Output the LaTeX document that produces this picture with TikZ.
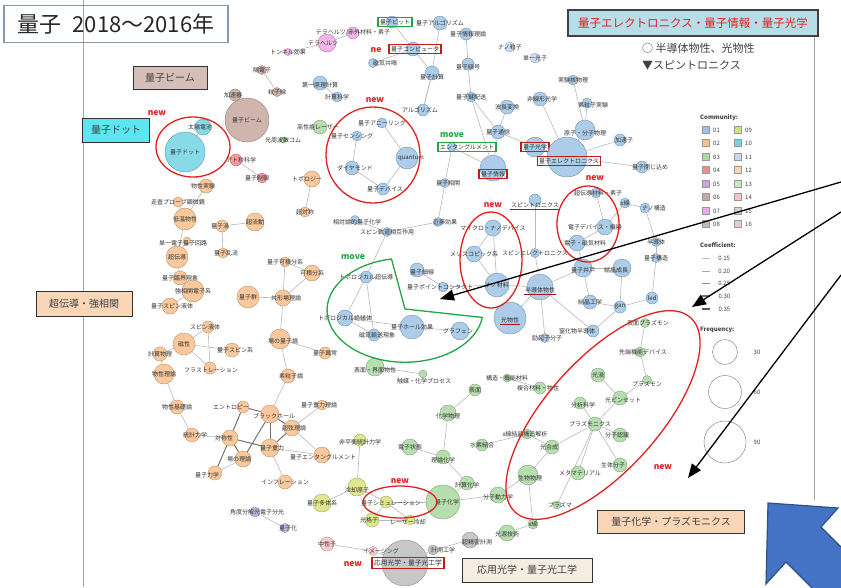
\documentclass[tikz,border=0pt]{standalone}
\usepackage{fontspec}
\setmainfont{Noto Sans CJK JP}
\usetikzlibrary{arrows.meta,backgrounds}
\definecolor{com01}{HTML}{9DC3E6}
\definecolor{com02}{HTML}{F8C08C}
\definecolor{com03}{HTML}{A9D8A0}
\definecolor{com04}{HTML}{EE8C8C}
\definecolor{com05}{HTML}{C4A8DC}
\definecolor{com06}{HTML}{C8A8A0}
\definecolor{com07}{HTML}{EEA8E6}
\definecolor{com08}{HTML}{BDBDBD}
\definecolor{com09}{HTML}{D8E27A}
\definecolor{com10}{HTML}{74D4E4}
\definecolor{com11}{HTML}{C6D6F4}
\definecolor{com12}{HTML}{F9D6B8}
\definecolor{com13}{HTML}{C8EAC4}
\definecolor{com14}{HTML}{F6C4C4}
\definecolor{com15}{HTML}{D4D0D8}
\definecolor{com16}{HTML}{E6CCD8}
\definecolor{ringred}{HTML}{E3201F}
\definecolor{movegreen}{HTML}{21A645}
\definecolor{arrowblue}{HTML}{4472C4}
\definecolor{titleframe}{HTML}{8497B0}
\definecolor{bannerfill}{HTML}{B7DEE8}
\definecolor{dotfill}{HTML}{5CE6F0}

\begin{document}
\begin{tikzpicture}[>={Triangle[width=11pt,length=14pt]},
  nd/.style={circle, inner sep=0pt, fill opacity=.85, line width=.4pt},
  n01/.style={nd, fill=com01, draw=com01!75!black},
  n02/.style={nd, fill=com02, draw=com02!75!black},
  n03/.style={nd, fill=com03, draw=com03!75!black},
  n04/.style={nd, fill=com04, draw=com04!75!black},
  n05/.style={nd, fill=com05, draw=com05!75!black},
  n06/.style={nd, fill=com06, draw=com06!75!black},
  n07/.style={nd, fill=com07, draw=com07!75!black},
  n08/.style={nd, fill=com08, draw=com08!75!black},
  n09/.style={nd, fill=com09, draw=com09!75!black},
  n10/.style={nd, fill=com10, draw=com10!75!black},
  n11/.style={nd, fill=com11, draw=com11!75!black},
  n14/.style={nd, fill=com14, draw=com14!75!black},
  lbl/.style={font=\fontsize{6}{6}\selectfont, text=black!80, inner sep=.5pt},
  lk/.style={draw=black!28, line width=.6pt},
  lk2/.style={draw=black!55, line width=1pt},
  rbox/.style={lbl, draw=ringred!85!black, line width=1.1pt, inner sep=2pt},
  gbox/.style={lbl, draw=movegreen, line width=1.1pt, inner sep=2pt},
  grp/.style={draw=black!80, line width=.9pt, font=\fontsize{10}{10}\selectfont, text=black!75, inner sep=0pt},
  tagnew/.style={text=ringred, font=\bfseries\fontsize{8.5}{8.5}\selectfont, inner sep=0pt},
  tagmove/.style={text=movegreen, font=\bfseries\fontsize{8.5}{8.5}\selectfont, inner sep=0pt},
  ring/.style={draw=ringred, line width=1.3pt},
  uline/.style={draw=ringred!70!black, line width=1pt},
  pointer/.style={->, line width=1.3pt},
  key/.style={draw=black!40, line width=.3pt, minimum size=7pt, inner sep=0pt},
  lgd/.style={font=\fontsize{6}{6}\selectfont, text=black!75, inner sep=0pt, anchor=west},
]
\useasboundingbox (0pt,0pt) rectangle (841pt,-587pt);

% slide frame lines
\draw[black!35, line width=.8pt] (83pt,0pt) -- (83pt,-587pt);
\draw[black!35, line width=.8pt] (814pt,-37pt) -- (814pt,-500pt);

% title and banner
\draw (116.0pt, -24.0pt)node[draw=titleframe, line width=1.5pt, minimum width=224pt, minimum height=37pt, font=\fontsize{22}{22}\selectfont, text=black!85](title){量子\hspace{0.5em}2018〜2016年};
\draw (693.0pt, -23.0pt)node[draw=black!75, line width=1.2pt, fill=bannerfill, minimum width=250pt, minimum height=26pt, text=ringred, font=\fontsize{11.5}{11.5}\selectfont](banner){量子エレクトロニクス・量子情報・量子光学};
\draw (642.0pt, -48.0pt)node[anchor=west, inner sep=0pt, font=\fontsize{11}{11}\selectfont, text=black!75](mark1){○ 半導体物性、光物性};
\draw (642.0pt, -65.0pt)node[anchor=west, inner sep=0pt, font=\fontsize{11}{11}\selectfont, text=black!75](mark2){▼スピントロニクス};

% cluster labels
\draw (170.0pt, -78.0pt)node[grp, fill=com06!75, minimum width=74pt, minimum height=23pt](gBeam){量子ビーム};
\draw (116.0pt, -130.0pt)node[grp, fill=dotfill, minimum width=67pt, minimum height=24pt](gDot){量子ドット};
\draw (84.0pt, -304.0pt)node[grp, fill=com12, minimum width=96pt, minimum height=25pt](gSup){超伝導・強相関};
\draw (671.0pt, -522.0pt)node[grp, fill=com12, minimum width=147pt, minimum height=23pt](gChem){量子化学・プラズモニクス};
\draw (527.0pt, -570.0pt)node[grp, fill=brown!15!white, minimum width=130pt, minimum height=24pt](gOpt){応用光学・量子光工学};

% quantum dot / beam / misc
\draw (185.0pt, -152.0pt)node[n10, minimum size=40pt](q1){} node[lbl]{量子ドット};
\draw (203.0pt, -127.0pt)node[n10, minimum size=16pt](q2){} node[lbl, xshift=-3pt]{太陽電池};
\draw (247.0pt, -120.0pt)node[n06, minimum size=44pt](br1){} node[lbl]{量子ビーム};
\draw (235.0pt, -95.0pt)node[n06, minimum size=12pt](br2){} node[lbl, xshift=-2pt]{加速器};
\draw (262.0pt, -70.0pt)node[n06, minimum size=9pt](br3){} node[lbl]{陽電子};
\draw (277.0pt, -92.0pt)node[n06, minimum size=9pt](br4){} node[lbl]{粒子線};
\draw (353.0pt, -33.0pt)node[n07, minimum size=12pt](pk1){} node[lbl]{テラヘルツ/赤外材料・素子};
\draw (327.0pt, -43.0pt)node[n07, minimum size=18pt](pk2){} node[lbl, xshift=-4pt]{テラヘルツ};
\draw (288.0pt, -52.0pt)node[n07, minimum size=7pt](pk3){} node[lbl]{トンネル効果};
\draw (236.0pt, -160.0pt)node[n04, minimum size=12pt](r1){} node[lbl, xshift=5pt]{アト秒科学};
\draw (262.0pt, -178.0pt)node[n04, minimum size=10pt](r2){} node[lbl, xshift=-5pt]{量子制御};
\draw (320.0pt, -127.0pt)node[n03, minimum size=14pt](g1){} node[lbl, xshift=-2pt]{高性能レーザー};
\draw (283.0pt, -140.0pt)node[n03, minimum size=6pt](g2){} node[lbl]{光周波数コム};

% community 01
\draw (392.0pt, -22.0pt)node[n01, minimum size=12pt](b1){} node[gbox, xshift=3pt]{量子ビット};
\draw (413.0pt, -49.0pt)node[n01, minimum size=14pt](b2){} node[rbox, xshift=2pt]{量子コンピュータ};
\draw (373.0pt, -63.0pt)node[n01, minimum size=9pt](b3){} node[lbl, xshift=12pt]{磁気共鳴};
\draw (320.0pt, -83.0pt)node[n01, minimum size=14pt](b4){} node[lbl, yshift=-2pt]{第一原理計算};
\draw (337.0pt, -97.0pt)node[n01, minimum size=10pt](b5){} node[lbl]{計算科学};
\draw (440.0pt, -23.0pt)node[n01, minimum size=14pt](b6){} node[lbl]{量子アルゴリズム};
\draw (466.0pt, -34.0pt)node[n01, minimum size=12pt](b7){} node[lbl, xshift=2pt]{量子情報理論};
\draw (432.0pt, -73.0pt)node[n01, minimum size=14pt](b8){} node[lbl, yshift=-4pt]{量子計算};
\draw (468.0pt, -64.0pt)node[n01, minimum size=12pt](b9){} node[lbl, yshift=-3pt]{量子暗号};
\draw (471.0pt, -97.0pt)node[n01, minimum size=10pt](b10){} node[lbl]{量子鍵配送};
\draw (507.0pt, -107.0pt)node[n01, minimum size=14pt](b11){} node[lbl]{波長変換};
\draw (423.0pt, -110.0pt)node[n01, minimum size=12pt](b12){} node[lbl, xshift=-3pt]{アルゴリズム};
\draw (498.0pt, -132.0pt)node[n01, minimum size=14pt](b13){} node[lbl]{量子通信};
\draw (535.0pt, -147.0pt)node[n01, minimum size=20pt](b14){} node[rbox]{量子光学};
\draw (567.0pt, -157.0pt)node[n01, minimum size=40pt](b15){} node[rbox, xshift=2pt, yshift=-4pt]{量子エレクトロニクス};
\draw (493.0pt, -168.0pt)node[n01, minimum size=26pt](b16){} node[rbox, yshift=-6pt]{量子情報};
\draw (452.0pt, -147.0pt)node[n01, minimum size=9pt](b17){} node[gbox, xshift=15pt]{エンタングルメント};
\draw (445.0pt, -183.0pt)node[n01, minimum size=9pt](b18){} node[lbl, xshift=3pt]{量子相関};
\draw (540.0pt, -99.0pt)node[n01, minimum size=14pt](b19){} node[lbl, xshift=2pt]{非線形光学};
\draw (573.0pt, -80.0pt)node[n01, minimum size=10pt](b20){} node[lbl]{実験核物理};
\draw (587.0pt, -103.0pt)node[n01, minimum size=10pt](b21){} node[lbl, xshift=6pt, yshift=-2pt]{素粒子実験};
\draw (585.0pt, -130.0pt)node[n01, minimum size=20pt](b22){} node[lbl, yshift=-3pt]{原子・分子物理};
\draw (620.0pt, -140.0pt)node[n01, minimum size=12pt](b23){} node[lbl, xshift=4pt]{加速子};
\draw (642.0pt, -167.0pt)node[n01, minimum size=12pt](b24){} node[lbl, xshift=8pt]{量子閉じ込め};
\draw (510.0pt, -47.0pt)node[n11, minimum size=10pt](b25){} node[lbl]{ナノ粒子};
\draw (535.0pt, -58.0pt)node[n11, minimum size=10pt](b26){} node[lbl]{単一光子};
\draw (382.0pt, -123.0pt)node[n01, minimum size=10pt](b27){} node[lbl]{量子アニーリング};
\draw (357.0pt, -136.0pt)node[n01, minimum size=10pt](b28){} node[lbl, xshift=-5pt]{量子センシング};
\draw (352.0pt, -168.0pt)node[n01, minimum size=14pt](b29){} node[lbl, xshift=3pt]{ダイヤモンド};
\draw (407.0pt, -158.0pt)node[n01, minimum size=22pt](b30){} node[lbl, xshift=4pt]{quantum};
\draw (383.0pt, -189.0pt)node[n01, minimum size=12pt](b31){} node[lbl, xshift=2pt]{量子デバイス};
\draw (596.0pt, -193.0pt)node[n01, minimum size=10pt](b32){} node[lbl, xshift=2pt]{超伝導材料・素子};
\draw (535.0pt, -200.0pt)node[n01, minimum size=12pt](b33){} node[lbl, yshift=-5pt](b33t){スピントロニクス};
\draw (438.0pt, -222.0pt)node[n01, minimum size=9pt](b34){} node[lbl, xshift=7pt]{近藤効果};
\draw (355.0pt, -220.0pt)node[n01, minimum size=9pt](b35){} node[lbl, xshift=2pt, yshift=-2pt]{相対論的量子化学};
\draw (387.0pt, -232.0pt)node[n01, minimum size=9pt](b36){} node[lbl]{スピン軌道相互作用};
\draw (493.0pt, -228.0pt)node[n01, minimum size=16pt](b37){} node[lbl]{マイクロ・ナノデバイス};
\draw (474.0pt, -254.0pt)node[n01, minimum size=16pt](b38){} node[lbl]{メゾスコピック系};
\draw (535.0pt, -253.0pt)node[n01, minimum size=9pt](b39){} node[lbl]{スピンエレクトロニクス};
\draw (497.0pt, -285.0pt)node[n01, minimum size=24pt](b40){} node[lbl]{ナノ材料};
\draw (605.0pt, -227.0pt)node[n01, minimum size=16pt](b41){} node[lbl, xshift=-10pt]{電子デバイス・機器};
\draw (577.0pt, -243.0pt)node[n01, minimum size=16pt](b42){} node[lbl, xshift=8pt]{電子・磁気材料};
\draw (583.0pt, -268.0pt)node[n01, minimum size=18pt](b43){} node[lbl, yshift=-2pt]{量子井戸};
\draw (622.0pt, -268.0pt)node[n01, minimum size=18pt](b44){} node[lbl, xshift=-6pt, yshift=-2pt]{結晶成長};
\draw (625.0pt, -203.0pt)node[n01, minimum size=10pt](b45){} node[lbl]{x線};
\draw (645.0pt, -208.0pt)node[n01, minimum size=10pt](b46){} node[lbl, xshift=9pt]{ナノ構造};
\draw (656.0pt, -242.0pt)node[n01, minimum size=9pt](b47){} node[lbl]{半導体};
\draw (656.0pt, -258.0pt)node[n01, minimum size=9pt](b48){} node[lbl]{量子構造};
\draw (652.0pt, -298.0pt)node[n01, minimum size=12pt](b49){} node[lbl]{led};
\draw (620.0pt, -307.0pt)node[n01, minimum size=12pt](b50){} node[lbl]{gan};
\draw (590.0pt, -302.0pt)node[n01, minimum size=14pt](b51){} node[lbl]{結晶工学};
\draw (540.0pt, -287.0pt)node[n01, minimum size=26pt](b52){} node[lbl, yshift=-3pt](b52t){半導体物性};
\draw (510.0pt, -318.0pt)node[n01, minimum size=32pt](b53){} node[lbl, yshift=-2pt](b53t){光物性};
\draw (593.0pt, -331.0pt)node[n01, minimum size=12pt](b54){} node[lbl, xshift=-16pt]{窒化物半導体};
\draw (545.0pt, -338.0pt)node[n01, minimum size=9pt](b55){} node[lbl, xshift=2pt]{励起子分子};
\draw (417.0pt, -270.0pt)node[n01, minimum size=14pt](b56){} node[lbl, xshift=5pt, yshift=-2pt]{量子細線};
\draw (443.0pt, -287.0pt)node[n01, minimum size=10pt](b57){} node[lbl, xshift=-3pt]{量子ポイントコンタクト};
\draw (412.0pt, -327.0pt)node[n01, minimum size=24pt](b58){} node[lbl]{量子ホール効果};
\draw (460.0pt, -331.0pt)node[n01, minimum size=18pt](b59){} node[lbl, xshift=-2pt]{グラフェン};
\draw (366.0pt, -277.0pt)node[n01, minimum size=12pt](b60){} node[lbl]{トポロジカル超伝導};
\draw (345.0pt, -318.0pt)node[n01, minimum size=16pt](b61){} node[lbl]{トポロジカル絶縁体};
\draw (374.0pt, -335.0pt)node[n01, minimum size=12pt](b62){} node[lbl, xshift=3pt]{磁気輸送現象};

% community 02
\draw (312.0pt, -179.0pt)node[n02, minimum size=16pt](o1){} node[lbl, xshift=-5pt]{トポロジー};
\draw (305.0pt, -212.0pt)node[n02, minimum size=10pt](o2){} node[lbl]{超対称};
\draw (206.0pt, -186.0pt)node[n02, minimum size=14pt](o3){} node[lbl, xshift=-3pt]{物性実験};
\draw (178.0pt, -202.0pt)node[n02, minimum size=10pt](o4){} node[lbl]{走査プローブ顕微鏡};
\draw (185.0pt, -219.0pt)node[n02, minimum size=22pt](o5){} node[lbl]{低温物性};
\draw (255.0pt, -222.0pt)node[n02, minimum size=18pt](o6){} node[lbl]{超流動};
\draw (222.0pt, -226.0pt)node[n02, minimum size=12pt](o7){} node[lbl, xshift=-2pt]{量子渦};
\draw (223.0pt, -253.0pt)node[n02, minimum size=10pt](o8){} node[lbl, xshift=3pt]{量子乱流};
\draw (187.0pt, -241.0pt)node[n02, minimum size=8pt](o9){} node[lbl, xshift=-4pt, yshift=-2pt]{単一電子量子回路};
\draw (177.0pt, -257.0pt)node[n02, minimum size=22pt](o10){} node[lbl]{超伝導};
\draw (180.0pt, -278.0pt)node[n02, minimum size=14pt](o11){} node[lbl]{量子臨界現象};
\draw (193.0pt, -291.0pt)node[n02, minimum size=22pt](o12){} node[lbl]{強相関電子系};
\draw (170.0pt, -306.0pt)node[n02, minimum size=16pt](o13){} node[lbl, xshift=2pt]{量子スピン液体};
\draw (208.0pt, -327.0pt)node[n02, minimum size=12pt](o14){} node[lbl, xshift=-3pt]{スピン液体};
\draw (184.0pt, -344.0pt)node[n02, minimum size=22pt](o15){} node[lbl]{磁性};
\draw (160.0pt, -354.0pt)node[n02, minimum size=14pt](o16){} node[lbl]{計算物理};
\draw (164.0pt, -374.0pt)node[n02, minimum size=20pt](o17){} node[lbl]{物性理論};
\draw (210.0pt, -368.0pt)node[n02, minimum size=12pt](o18){} node[lbl, xshift=1pt, yshift=-2pt]{フラストレーション};
\draw (232.0pt, -350.0pt)node[n02, minimum size=14pt](o19){} node[lbl, xshift=3pt]{量子スピン系};
\draw (177.0pt, -407.0pt)node[n02, minimum size=14pt](o20){} node[lbl]{物性基礎論};
\draw (192.0pt, -435.0pt)node[n02, minimum size=14pt](o21){} node[lbl, xshift=3pt]{統計力学};
\draw (285.0pt, -262.0pt)node[n02, minimum size=10pt](o22){} node[lbl]{量子可積分系};
\draw (312.0pt, -273.0pt)node[n02, minimum size=16pt](o23){} node[lbl]{可積分系};
\draw (248.0pt, -297.0pt)node[n02, minimum size=22pt](o24){} node[lbl]{量子群};
\draw (283.0pt, -298.0pt)node[n02, minimum size=16pt](o25){} node[lbl, xshift=3pt]{共形場理論};
\draw (280.0pt, -339.0pt)node[n02, minimum size=20pt](o26){} node[lbl, xshift=3pt, yshift=-2pt]{場の量子論};
\draw (325.0pt, -353.0pt)node[n02, minimum size=12pt](o27){} node[lbl]{量子異常};
\draw (288.0pt, -376.0pt)node[n02, minimum size=14pt](o28){} node[lbl, xshift=3pt]{素粒子論};
\draw (322.0pt, -405.0pt)node[n02, minimum size=10pt](o29){} node[lbl, xshift=-3pt]{量子重力理論};
\draw (243.0pt, -407.0pt)node[n02, minimum size=12pt](o30){} node[lbl, xshift=-12pt]{エントロピー};
\draw (270.0pt, -414.0pt)node[n02, minimum size=18pt](o31){} node[lbl, xshift=4pt, yshift=-2pt]{ブラックホール};
\draw (292.0pt, -428.0pt)node[n02, minimum size=16pt](o32){} node[lbl, xshift=2pt]{超弦理論};
\draw (230.0pt, -438.0pt)node[n02, minimum size=16pt](o33){} node[lbl, xshift=-6pt]{対称性};
\draw (270.0pt, -448.0pt)node[n02, minimum size=18pt](o34){} node[lbl, xshift=2pt]{量子重力};
\draw (243.0pt, -459.0pt)node[n02, minimum size=16pt](o35){} node[lbl, xshift=-4pt]{場の理論};
\draw (322.0pt, -455.0pt)node[n02, minimum size=16pt](o36){} node[lbl, xshift=1pt, yshift=-2pt]{量子エンタングルメント};
\draw (215.0pt, -473.0pt)node[n02, minimum size=14pt](o37){} node[lbl, xshift=-8pt, yshift=-2pt]{量子力学};
\draw (285.0pt, -482.0pt)node[n02, minimum size=14pt](o38){} node[lbl]{インフレーション};

% community 03
\draw (375.0pt, -367.0pt)node[n03, minimum size=18pt](g3){} node[lbl, yshift=-3pt]{表面・界面物性};
\draw (423.0pt, -374.0pt)node[n03, minimum size=8pt](g4){} node[lbl, xshift=1pt, yshift=-7pt]{触媒・化学プロセス};
\draw (507.0pt, -378.0pt)node[n03, minimum size=8pt](g5){} node[lbl]{構造・機能材料};
\draw (540.0pt, -388.0pt)node[n03, minimum size=12pt](g6){} node[lbl, xshift=-2pt]{複合材料・物性};
\draw (475.0pt, -390.0pt)node[n03, minimum size=12pt](g7){} node[lbl]{表面};
\draw (448.0pt, -413.0pt)node[n03, minimum size=16pt](g8){} node[lbl, yshift=-3pt]{化学物理};
\draw (410.0pt, -447.0pt)node[n03, minimum size=16pt](g9){} node[lbl]{電子状態};
\draw (443.0pt, -457.0pt)node[n03, minimum size=14pt](g10){} node[lbl, yshift=-3pt]{理論化学};
\draw (482.0pt, -445.0pt)node[n03, minimum size=12pt](g11){} node[lbl]{水素結合};
\draw (527.0pt, -434.0pt)node[n03, minimum size=10pt](g12){} node[lbl, xshift=-2pt]{x線結晶構造解析};
\draw (552.0pt, -447.0pt)node[n03, minimum size=14pt](g13){} node[lbl, xshift=-3pt]{光合成};
\draw (528.0pt, -475.0pt)node[n03, minimum size=20pt](g14){} node[lbl, xshift=2pt, yshift=-3pt]{生物物理};
\draw (467.0pt, -483.0pt)node[n03, minimum size=14pt](g15){} node[lbl, yshift=-2pt]{計算化学};
\draw (443.0pt, -502.0pt)node[n03, minimum size=34pt](g16){} node[lbl, xshift=4pt]{量子化学};
\draw (498.0pt, -495.0pt)node[n03, minimum size=16pt](g17){} node[lbl, yshift=-2pt]{分子動力学};
\draw (557.0pt, -505.0pt)node[n03, minimum size=8pt](g18){} node[lbl, xshift=3pt]{プラズマ};
\draw (578.0pt, -473.0pt)node[n03, minimum size=14pt](g19){} node[lbl, xshift=2pt]{メタマテリアル};
\draw (620.0pt, -465.0pt)node[n03, minimum size=14pt](g20){} node[lbl, xshift=-7pt]{生体分子};
\draw (595.0pt, -424.0pt)node[n03, minimum size=14pt](g21){} node[lbl, xshift=-5pt]{プラズモニクス};
\draw (620.0pt, -435.0pt)node[n03, minimum size=14pt](g22){} node[lbl, xshift=-3pt]{分子認識};
\draw (580.0pt, -403.0pt)node[n03, minimum size=12pt](g23){} node[lbl, xshift=3pt, yshift=-2pt]{分析科学};
\draw (620.0pt, -398.0pt)node[n03, minimum size=14pt](g24){} node[lbl, xshift=3pt, yshift=-2pt]{光ピンセット};
\draw (598.0pt, -375.0pt)node[n03, minimum size=14pt](g25){} node[lbl]{光渦};
\draw (647.0pt, -380.0pt)node[n03, minimum size=9pt](g26){} node[lbl, yshift=-4pt]{プラズモン};
\draw (640.0pt, -352.0pt)node[n03, minimum size=10pt](g27){} node[lbl, xshift=3pt]{先端機能デバイス};
\draw (645.0pt, -323.0pt)node[n03, minimum size=9pt](g28){} node[lbl, xshift=3pt]{表面プラズモン};
\draw (533.0pt, -524.0pt)node[n03, minimum size=10pt](g29){} node[lbl]{x線};
\draw (507.0pt, -533.0pt)node[n03, minimum size=16pt](g30){} node[lbl, yshift=-1pt]{光源技術};

% community 09 / 08 / 05 / 14
\draw (360.0pt, -440.0pt)node[n09, minimum size=12pt](y0){} node[lbl, yshift=-2pt]{非平衡統計力学};
\draw (357.0pt, -487.0pt)node[n09, minimum size=18pt](y1){} node[lbl, yshift=-3pt]{冷却原子};
\draw (322.0pt, -503.0pt)node[n09, minimum size=18pt](y2){} node[lbl]{量子多体系};
\draw (386.0pt, -502.0pt)node[n09, minimum size=12pt](y3){} node[lbl, xshift=5pt, yshift=-1pt]{量子シミュレーション};
\draw (372.0pt, -520.0pt)node[n09, minimum size=14pt](y4){} node[lbl, xshift=-3pt]{光格子};
\draw (410.0pt, -520.0pt)node[n09, minimum size=10pt](y5){} node[lbl, xshift=-2pt, yshift=-2pt]{レーザー冷却};
\draw (405.0pt, -563.0pt)node[n08, minimum size=46pt](gr1){} node[rbox, xshift=3pt, font=\fontsize{6.8}{6.8}\selectfont]{応用光学・量子光工学};
\draw (470.0pt, -540.0pt)node[n08, minimum size=16pt](gr2){} node[lbl, xshift=7pt, yshift=-2pt]{超精密計測};
\draw (433.0pt, -550.0pt)node[n08, minimum size=10pt](gr3){} node[lbl, xshift=10pt]{計測工学};
\draw (255.0pt, -512.0pt)node[n05, minimum size=10pt](p1){} node[lbl, xshift=2pt]{角度分解光電子分光};
\draw (285.0pt, -528.0pt)node[n05, minimum size=9pt](p2){} node[lbl, xshift=3pt]{量子化};
\draw (327.0pt, -544.0pt)node[n14, minimum size=14pt](s1){} node[lbl]{中性子};
\draw (373.0pt, -551.0pt)node[n14, minimum size=9pt](s2){} node[lbl, xshift=8pt]{イメージング};

% co-occurrence links
\begin{scope}[on background layer]
\path[lk] (q1) edge (q2) (br1) edge (br2) (br3) edge (br4) (pk1) edge (pk2) (pk2) edge (pk3) (r1) edge (r2);
\path[lk] (b1) edge (b2) (b2) edge (b8) (b6) edge (b8) (b8) edge (b12) (b7) edge (b9) (b9) edge (b10);
\path[lk] (b10) edge (b13) (b10) edge (b16) (b11) edge (b13) (b13) edge (b16) (b13) edge (b14) (b14) edge (b15);
\path[lk] (b19) edge (b15) (b20) edge (b22) (b21) edge (b22) (b22) edge (b15) (b15) edge (b23) (b15) edge (b24);
\path[lk] (b16) edge (b17) (b17) edge (b18) (b4) edge (b5) (b12) edge (b8) (b3) edge (b2);
\path[lk] (b27) edge (b30) (b28) edge (b29) (b29) edge (b31) (b30) edge (b31);
\path[lk] (b33) edge (b39) (b37) edge (b38) (b38) edge (b40) (b40) edge (b57) (b56) edge (b57) (b40) edge (b52);
\path[lk] (b52) edge (b53) (b52) edge (b43) (b43) edge (b42) (b42) edge (b41) (b41) edge (b32) (b41) edge (b45);
\path[lk] (b43) edge (b44) (b43) edge (b51) (b44) edge (b50) (b51) edge (b50) (b50) edge (b49) (b49) edge (b48);
\path[lk] (b48) edge (b47) (b47) edge (b46) (b46) edge (b45) (b52) edge (b54) (b54) edge (b50) (b52) edge (b55);
\path[lk] (b39) edge (b52) (b58) edge (b59) (b58) edge (b61) (b61) edge (b60) (b61) edge (b62) (b60) edge (b62);
\path[lk] (b60) edge (b36) (b35) edge (b36) (b36) edge (b34) (b34) edge (b18) (b37) edge (b40);
\path[lk] (o1) edge (o2) (o3) edge (o5) (o4) edge (o5) (o5) edge (o10) (o9) edge (o10) (o10) edge (o11);
\path[lk] (o11) edge (o12) (o12) edge (o13) (o14) edge (o15) (o15) edge (o16) (o15) edge (o19) (o15) edge (o18);
\path[lk] (o14) edge (o18) (o16) edge (o17) (o17) edge (o20) (o20) edge (o21) (o21) edge (o33) (o6) edge (o7) (o7) edge (o8);
\path[lk] (o22) edge (o25) (o22) edge (o23) (o23) edge (o25) (o24) edge (o25) (o25) edge (o26) (o26) edge (o27) (o26) edge (o28);
\path[lk] (o28) edge (o31) (o32) edge (o29) (o32) edge (o36) (o34) edge (o38) (o34) edge (o36) (o35) edge (o37);
\path[lk2] (o31) edge (o30) (o31) edge (o32) (o31) edge (o34) (o32) edge (o34) (o33) edge (o30);
\path[lk2] (o33) edge (o34) (o33) edge (o35) (o33) edge (o37) (o35) edge (o31);
\path[lk] (g3) edge (g4) (g7) edge (g8) (g8) edge (g10) (g9) edge (g10) (g10) edge (g15) (g15) edge (g16);
\path[lk] (g16) edge (g17) (g17) edge (g14) (g14) edge (g13) (g13) edge (g12) (g12) edge (g11) (g13) edge (g21);
\path[lk] (g21) edge (g23) (g21) edge (g24) (g21) edge (g22) (g21) edge (g19) (g21) edge (g20) (g21) edge (g18);
\path[lk] (g24) edge (g26) (g25) edge (g24) (g27) edge (g26) (g28) edge (g27) (g5) edge (g6) (g14) edge (g29) (g29) edge (g30);
\path[lk] (y0) edge (y1) (y1) edge (y2) (y1) edge (y3) (y3) edge (y4) (y4) edge (y5) (y3) edge (y5) (y3) edge (g16);
\path[lk] (gr2) edge (gr3) (gr1) edge (gr3) (s1) edge (s2) (s2) edge (gr1) (p1) edge (p2);
\end{scope}

% marks on labels
\draw[uline] ([yshift=-1pt]b33t.south west) -- ([yshift=-1pt]b33t.south east);
\draw[uline] ([yshift=-1pt]b52t.south west) -- ([yshift=-1pt]b52t.south east);
\draw[uline] ([yshift=-1pt]b53t.south west) -- ([yshift=-1pt]b53t.south east);

% red rings and tags
\draw[ring] (193pt,-147pt) ellipse [x radius=37pt, y radius=30pt];
\draw[ring] (373pt,-155pt) ellipse [x radius=47pt, y radius=48pt];
\draw[ring] (491pt,-260pt) ellipse [x radius=31pt, y radius=48pt];
\draw[ring] (588pt,-224pt) ellipse [x radius=31pt, y radius=38pt];
\draw[ring] (400pt,-502pt) ellipse [x radius=37pt, y radius=16pt];
\draw[ring, rotate around={48:(603pt,-415pt)}] (603pt,-415pt) ellipse [x radius=131pt, y radius=56pt];
\draw (157.0pt, -113.0pt)node[tagnew](n1){new};
\draw (375.0pt, -100.0pt)node[tagnew](n2){new};
\draw (376.0pt, -50.0pt)node[tagnew](n3){ne};
\draw (493.0pt, -205.0pt)node[tagnew](n4){new};
\draw (595.0pt, -178.0pt)node[tagnew](n5){new};
\draw (663.0pt, -467.0pt)node[tagnew](n6){new};
\draw (400.0pt, -481.0pt)node[tagnew](n7){new};
\draw (353.0pt, -564.0pt)node[tagnew](n8){new};

% green move marks
\draw[movegreen, line width=1.3pt] (391.5pt,-259pt) arc[start angle=100, end angle=352, x radius=78pt, y radius=52pt] -- (405pt,-309pt) -- cycle;
\draw (353.0pt, -257.0pt)node[tagmove](m1){move};
\draw (452.0pt, -135.0pt)node[tagmove](m2){move};

% legend
\draw (700.0pt, -118.0pt)node[lgd, font=\bfseries\fontsize{6}{6}\selectfont](legC){Community:};
\draw (706.0pt, -130.0pt)node[key, fill=com01](k01){} node[lgd, xshift=7pt]{01};
\draw (706.0pt, -143.0pt)node[key, fill=com02](k02){} node[lgd, xshift=7pt]{02};
\draw (706.0pt, -157.0pt)node[key, fill=com03](k03){} node[lgd, xshift=7pt]{03};
\draw (706.0pt, -170.0pt)node[key, fill=com04](k04){} node[lgd, xshift=7pt]{04};
\draw (706.0pt, -184.0pt)node[key, fill=com05](k05){} node[lgd, xshift=7pt]{05};
\draw (706.0pt, -197.0pt)node[key, fill=com06](k06){} node[lgd, xshift=7pt]{06};
\draw (706.0pt, -211.0pt)node[key, fill=com07](k07){} node[lgd, xshift=7pt]{07};
\draw (706.0pt, -224.0pt)node[key, fill=com08](k08){} node[lgd, xshift=7pt]{08};
\draw (738.0pt, -130.0pt)node[key, fill=com09](k09){} node[lgd, xshift=7pt]{09};
\draw (738.0pt, -143.0pt)node[key, fill=com10](k10){} node[lgd, xshift=7pt]{10};
\draw (738.0pt, -157.0pt)node[key, fill=com11](k11){} node[lgd, xshift=7pt]{11};
\draw (738.0pt, -170.0pt)node[key, fill=com12](k12){} node[lgd, xshift=7pt]{12};
\draw (738.0pt, -184.0pt)node[key, fill=com13](k13){} node[lgd, xshift=7pt]{13};
\draw (738.0pt, -197.0pt)node[key, fill=com14](k14){} node[lgd, xshift=7pt]{14};
\draw (738.0pt, -211.0pt)node[key, fill=com15](k15){} node[lgd, xshift=7pt]{15};
\draw (738.0pt, -224.0pt)node[key, fill=com16](k16){} node[lgd, xshift=7pt]{16};
\draw (700.0pt, -245.0pt)node[lgd, font=\bfseries\fontsize{6}{6}\selectfont](legK){Coefficient:};
\draw[black!25, line width=.5pt] (702pt,-258pt) -- (710pt,-258pt) node[lgd, xshift=8pt]{0.15};
\draw[black!35, line width=.7pt] (702pt,-271pt) -- (710pt,-271pt) node[lgd, xshift=8pt]{0.20};
\draw[black!45, line width=.9pt] (702pt,-283pt) -- (710pt,-283pt) node[lgd, xshift=8pt]{0.25};
\draw[black!55, line width=1.1pt] (702pt,-296pt) -- (710pt,-296pt) node[lgd, xshift=8pt]{0.30};
\draw[black!65, line width=1.3pt] (702pt,-309pt) -- (710pt,-309pt) node[lgd, xshift=8pt]{0.35};
\draw (700.0pt, -330.0pt)node[lgd, font=\bfseries\fontsize{6}{6}\selectfont](legF){Frequency:};
\draw (725.0pt, -352.0pt)node[circle, draw=black!55, minimum size=25pt, inner sep=0pt](f30){} (757pt,-352pt) node[lgd, anchor=center]{30};
\draw (725.0pt, -392.0pt)node[circle, draw=black!55, minimum size=33pt, inner sep=0pt](f60){} (757pt,-392pt) node[lgd, anchor=center]{60};
\draw (725.0pt, -442.0pt)node[circle, draw=black!55, minimum size=42pt, inner sep=0pt](f90){} (757pt,-442pt) node[lgd, anchor=center]{90};

% pointers
\coordinate (a1) at (841pt,-182pt);
\coordinate (a2) at (841pt,-212pt);
\coordinate (a3) at (841pt,-275pt);
\coordinate (t1) at (440pt,-299pt);
\coordinate (t2) at (692pt,-307pt);
\coordinate (t3) at (688pt,-478pt);
\draw[pointer] (a1) -- (t1);
\draw[pointer] (a2) -- (t2);
\draw[pointer] (a3) -- (t3);

% big blue arrow
\draw[fill=arrowblue, draw=arrowblue!70!black, line width=1.2pt] (768pt,-503pt) -- (838pt,-508pt) -- (821pt,-527pt) -- (870pt,-576pt) -- (835pt,-611pt) -- (786pt,-562pt) -- (766pt,-584pt) -- cycle;
\end{tikzpicture}
\end{document}
